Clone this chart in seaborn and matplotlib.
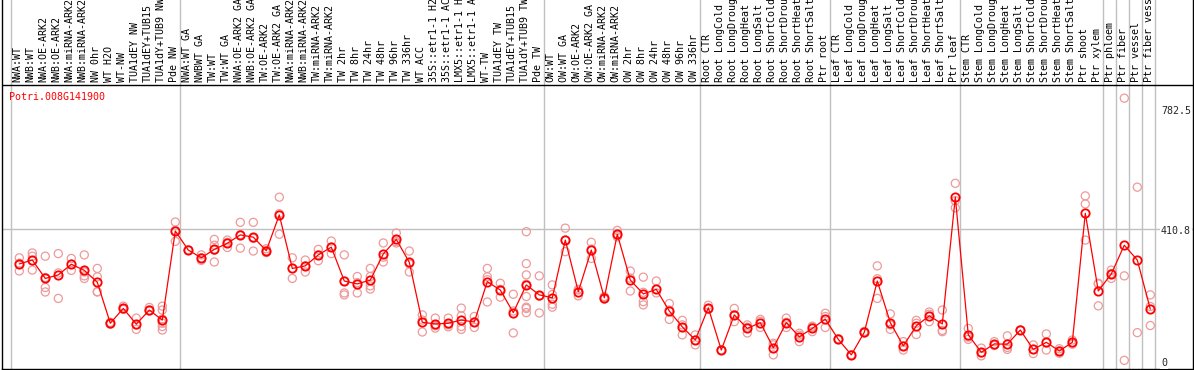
import pandas as pd
import seaborn as sns
import matplotlib
matplotlib.use("Agg")
import matplotlib.pyplot as plt

# sample names as shown (clipped) in the header
samples = [
    "NWA:WT", "NWB:WT", "NWA:OE-ARK2", "NWB:OE-ARK2", "NWA:miRNA-ARK2", "NWB:miRNA-ARK2",
    "NW 0hr", "WT H2O", "WT-NW", "TUA1dEY NW", "TUA1dEY+TUB15", "TUA1dY+TUB9 NW", "Pde NW",
    "NWA:WT GA", "NWBWT GA", "TW:WT", "TW:WT GA", "NWA:OE-ARK2 GA", "NWB:OE-ARK2 GA",
    "TW:OE-ARK2", "TW:OE-ARK2 GA", "NWA:miRNA-ARK2", "NWB:miRNA-ARK2", "TW:miRNA-ARK2",
    "TW:miRNA-ARK2", "TW 2hr", "TW 8hr", "TW 24hr", "TW 48hr", "TW 96hr", "TW 336hr",
    "WT ACC", "35S::etr1-1 H2", "35S::etr1-1 AC", "LMX5::etr1-1 H", "LMX5::etr1-1 A",
    "WT-TW", "TUA1dEY TW", "TUA1dEY+TUB15", "TUA1dY+TUB9 TW", "Pde TW",
    "OW:WT", "OW:WT GA", "OW:OE-ARK2", "OW:OE-ARK2 GA", "OW:miRNA-ARK2", "OW:miRNA-ARK2",
    "OW 2hr", "OW 8hr", "OW 24hr", "OW 48hr", "OW 96hr", "OW 336hr",
    "Root CTR", "Root LongCold", "Root LongDroug", "Root LongHeat", "Root LongSalt",
    "Root ShortCold", "Root ShortDrou", "Root ShortHeat", "Root ShortSalt", "Ptr root",
    "Leaf CTR", "Leaf LongCold", "Leaf LongDroug", "Leaf LongHeat", "Leaf LongSalt",
    "Leaf ShortCold", "Leaf ShortDrou", "Leaf ShortHeat", "Leaf ShortSalt", "Ptr leaf",
    "Stem CTR", "Stem LongCold", "Stem LongDroug", "Stem LongHeat", "Stem LongSalt",
    "Stem ShortCold", "Stem ShortDrou", "Stem ShortHeat", "Stem ShortSalt", "Ptr shoot",
    "Ptr xylem", "Ptr phloem", "Ptr fiber", "Ptr vessel", "Ptr fiber vess",
]

# mean expression per sample (connected red line)
means = [
    301, 313, 256, 267, 300, 281, 244, 117, 163, 114, 158, 127, 403,
    344, 320, 346, 365, 391, 384, 342, 453, 287, 295, 329, 353, 248, 239, 251,
    332, 377, 306, 120, 115, 117, 127, 121, 246, 220, 150, 236, 205,
    196, 375, 215, 344, 196, 393, 251, 208, 222, 155, 106, 65,
    165, 34, 143, 101, 119, 41, 119, 75, 101, 130,
    67, 19, 89, 248, 119, 47, 109, 140, 115, 508,
    81, 27, 53, 52, 96, 36, 58, 31, 58, 458, 217,
    270, 359, 313, 161,
]

# individual replicates (pale circles)
replicates = [
    [320, 279, 303], [335, 325, 282, 311], [325, 228, 214, 259], [333, 194, 273],
    [318, 281, 300], [329, 264, 256, 276], [287, 261, 215, 214], [117, 114, 120],
    [170, 160, 163], [133, 98, 112], [166, 155, 158], [170, 158, 117, 107, 96, 130],
    [431, 371, 405],
    [344, 344, 345], [329, 312, 320], [377, 359, 307, 343], [375, 352, 368],
    [430, 350, 392], [430, 341, 380], [336, 342, 348], [508, 393, 457],
    [320, 256, 287], [313, 276, 295], [346, 311, 329], [372, 333, 353],
    [329, 211, 205, 248], [262, 211, 243], [287, 233, 223, 262], [366, 307, 322],
    [397, 366, 370], [341, 276, 301], [143, 90, 127], [133, 102, 109],
    [133, 106, 112], [164, 107, 98, 140], [138, 104, 121], [287, 261, 183, 252],
    [241, 198, 222], [207, 87, 155], [401, 302, 267, 200, 167, 163, 150, 238],
    [264, 149, 201],
    [236, 176, 167, 206], [412, 339, 375], [222, 202, 220], [368, 318, 347],
    [200, 192, 197], [405, 385, 390], [279, 217, 257], [260, 184, 174, 213],
    [248, 211, 222], [178, 129, 158], [126, 81, 112], [81, 50, 65],
    [173, 160, 163], [34, 34, 34], [163, 122, 143], [112, 87, 105], [129, 104, 123],
    [55, 19, 50], [133, 104, 120], [86, 60, 80], [108, 91, 105], [148, 104, 138],
    [69, 66, 67], [19, 18, 19], [92, 88, 87], [295, 194, 255], [146, 98, 112],
    [60, 34, 46], [126, 82, 117], [152, 122, 145], [158, 91, 95], [551, 475, 497],
    [101, 67, 74], [40, 16, 25], [60, 50, 48], [78, 36, 42], [96, 96, 96],
    [50, 36, 23], [84, 34, 56], [31, 24, 38], [65, 57, 52], [512, 487, 375],
    [241, 171, 239],
    [282, 256, 271], [815, 264, 2], [539, 88], [205, 169, 110],
]

# index after which a grey separator is drawn
group_breaks = [0, 13, 41, 53, 63, 73, 84, 85, 86, 87, 88]
gene_id = "Potri.008G141900"
tick_values = [782.5, 410.8, 0]
tick_texts = ["782.5", "410.8", "0"]

mean_df = pd.DataFrame({"pos": range(len(means)), "expr": means})
rep_df = pd.DataFrame(
    [(i, v) for i, reps in enumerate(replicates) for v in reps], columns=["pos", "expr"]
)

sns.set_style("white")
plt.rcParams["font.family"] = ["DejaVu Sans Mono"]

W, H = 1194, 370
fig = plt.figure(figsize=(W / 100, H / 100), dpi=100)
ax = fig.add_axes([2 / W, 1 / H, 1191 / W, 369 / H])

# pixel mapping: value 0 at y=361, 0.3225 px per unit
px = 0.3225
ax.set_xlim((2 - 19.3) / 13, (1193 - 19.3) / 13)
ax.set_ylim((361 - 369) / px, 361 / px)

for k in group_breaks:
    ax.axvline(k - 0.66, color="#c0c0c0", lw=1, zorder=0)
ax.axhline(410.8, color="#c0c0c0", lw=1, zorder=0)
ax.axhline((361 - 85) / px, color="black", lw=1, zorder=1)

sns.scatterplot(data=rep_df, x="pos", y="expr", marker="o", s=34,
                facecolor="none", edgecolor="#ee9a9a", linewidth=0.9,
                zorder=2, ax=ax, legend=False)
sns.lineplot(data=mean_df, x="pos", y="expr", color="red", lw=0.9,
             marker="o", markersize=6, markerfacecolor="none",
             markeredgecolor="red", markeredgewidth=1.3, zorder=3, ax=ax)

for i, lab in enumerate(samples):
    ax.text(i - 0.12, (361 - 82) / px, lab, rotation=90, ha="center", va="bottom",
            fontsize=7.2, color="black")

ax.text((9 - 19.3) / 13, (361 - 97) / px, gene_id, color="red", fontsize=7.2,
        ha="left", va="center")

for v, t in zip(tick_values, tick_texts):
    ax.text((1161 - 19.3) / 13, v - 2 / px, t, fontsize=7.2, ha="left", va="center",
            bbox=dict(facecolor="white", edgecolor="none", pad=0.5), zorder=4)

ax.set_xticks([])
ax.set_yticks([])
ax.set_xlabel("")
ax.set_ylabel("")
for side in ["left", "right", "bottom"]:
    ax.spines[side].set_color("black")
    ax.spines[side].set_linewidth(1)
ax.spines["top"].set_visible(False)

fig.savefig("out.png", dpi=100)
